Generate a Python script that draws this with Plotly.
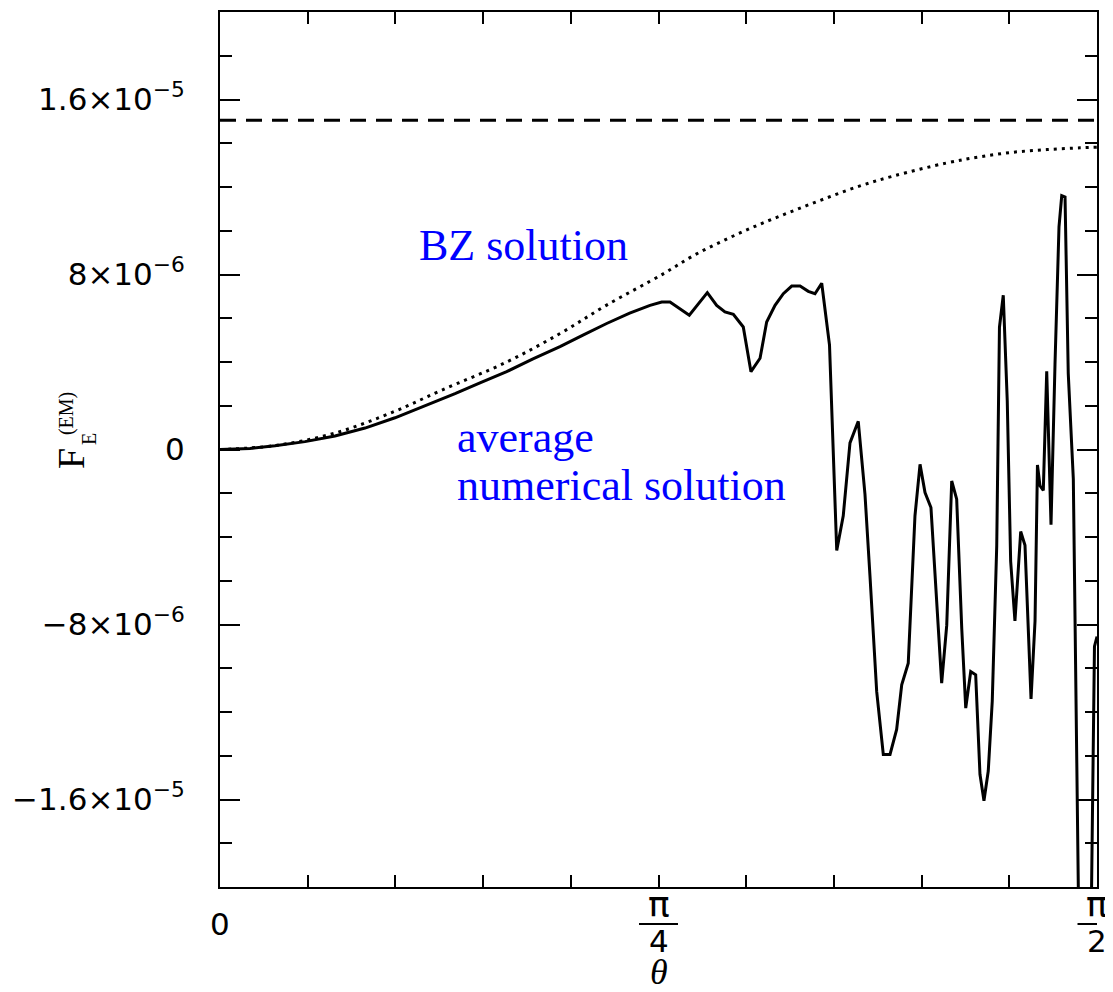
import plotly.graph_objects as go

# ---------------- data (theta in degrees, F in units of 1e-6) ----------------
theta_num = [0, 3.08, 5.64, 8.72, 11.80, 14.88, 17.96, 21.04, 24.12, 26.68, 29.42, 32.12,
             34.89, 37.25, 39.68, 42.04, 44.13, 45.33, 46.18, 48.16, 50.01, 50.97, 51.82,
             52.68, 53.70, 54.49, 55.42, 56.10, 56.96, 57.81, 58.67, 59.53, 60.37, 61.06,
             61.75, 62.55, 63.29, 63.96, 64.65, 65.50, 66.19, 66.70, 67.39, 68.07, 68.76,
             69.44, 69.96, 70.63, 71.32, 71.84, 72.35, 72.96, 73.55, 74.06, 74.58, 75.09,
             75.60, 76.12, 76.53, 77.04, 77.55, 77.99, 78.40, 78.84, 79.25, 79.71, 79.99,
             80.38, 80.79, 81.14, 81.58, 82.17, 82.61, 83.23, 83.64, 83.89, 84.15, 84.49,
             84.84, 85.28, 85.69, 86.10, 86.38, 86.72, 87.05, 87.57, 88.77, 89.74, 90.0]
F_num = [0, 0.05, 0.17, 0.36, 0.62, 0.98, 1.45, 2.00, 2.55, 3.05, 3.56, 4.14,
         4.70, 5.23, 5.76, 6.23, 6.59, 6.74, 6.74, 6.14, 7.17, 6.59, 6.29,
         6.18, 5.60, 3.56, 4.17, 5.83, 6.59, 7.12, 7.47, 7.47, 7.23, 7.12,
         7.60, 4.77, -4.62, -3.03, 0.30, 1.29, -2.05, -5.76, -11.06, -13.94, -13.94,
         -12.80, -10.76, -9.77, -3.03, -0.68, -1.97, -2.65, -6.82, -10.68, -8.03, -1.44,
         -2.27, -8.18, -11.82, -10.15, -10.30, -14.85, -16.06, -14.70, -11.51, -4.40, 5.59,
         7.05, 2.23, -5.11, -7.84, -3.75, -4.38, -11.40, -7.84, -0.71, -1.66, -1.87,
         3.58, -3.44, 3.90, 10.18, 11.60, 11.54, 3.48, -1.34, -45.0, -9.0, -8.55]

theta_bz = [0, 5.64, 11.80, 17.96, 22.58, 29.42, 34.89, 39.68, 45.49, 48.57, 52.00,
            55.42, 58.83, 62.26, 65.68, 69.10, 74.58, 77.99, 81.41, 84.84, 88.26, 90.0]
F_bz = [0, 0.18, 0.75, 1.75, 2.68, 4.0, 5.3, 6.6, 8.03, 8.86, 9.62,
        10.30, 10.91, 11.50, 12.05, 12.50, 13.10, 13.38, 13.59, 13.71, 13.79, 13.82]

theta_flat = [0, 90]
F_flat = [15.05, 15.05]

scale = 1e-6

y_tick_vals = [-16e-6, -8e-6, 0, 8e-6, 16e-6]
y_tick_text = ["\u22121.6\u00d710<sup>\u22125</sup>", "\u22128\u00d710<sup>\u22126</sup>", "0",
               "8\u00d710<sup>\u22126</sup>", "1.6\u00d710<sup>\u22125</sup>"]
x_tick_vals = [0, 45, 90]
x_tick_num = ["0", "\u03c0", "\u03c0"]
x_tick_den = ["", "4", "2"]

# ---------------- figure ----------------
fig = go.Figure()
fig.add_trace(go.Scatter(x=theta_flat, y=[v * scale for v in F_flat], mode="lines",
                         line=dict(color="black", width=3, dash="16px,10px"), showlegend=False))
fig.add_trace(go.Scatter(x=theta_bz, y=[v * scale for v in F_bz], mode="lines",
                         line=dict(color="black", width=3, dash="3px,5px", shape="spline"),
                         showlegend=False))
fig.add_trace(go.Scatter(x=theta_num, y=[v * scale for v in F_num], mode="lines",
                         line=dict(color="black", width=3), showlegend=False))

tick_font = dict(family="DejaVu Sans", size=31, color="black")
pi_font = dict(family="DejaVu Sans", size=36, color="black")
serif = "Liberation Serif"

annotations = []
shapes = []
for v, num, den in zip(x_tick_vals, x_tick_num, x_tick_den):
    if den:
        annotations.append(dict(x=v, y=-0.0205, xref="x", yref="paper", text=num, showarrow=False,
                                xanchor="center", yanchor="middle", font=pi_font))
        annotations.append(dict(x=v, y=-0.0620, xref="x", yref="paper", text=den, showarrow=False,
                                xanchor="center", yanchor="middle", font=tick_font))
        shapes.append(dict(type="line", xref="x", yref="paper", x0=v - 2.0, x1=v + 2.0,
                           y0=-0.0422, y1=-0.0422, line=dict(color="black", width=2)))
    else:
        annotations.append(dict(x=v, y=-0.0422, xref="x", yref="paper", text=num, showarrow=False,
                                xanchor="center", yanchor="middle", font=tick_font))

# x axis title
annotations.append(dict(x=45, y=-0.0969, xref="x", yref="paper", text="<i>\u03b8</i>", showarrow=False,
                        xanchor="center", yanchor="middle", font=dict(family=serif, size=36, color="black")))
# y axis title pieces
annotations.append(dict(x=-0.1699, y=0.4903, xref="paper", yref="paper", text="F", showarrow=False,
                        textangle=-90, xanchor="center", yanchor="middle",
                        font=dict(family=serif, size=38, color="black")))
annotations.append(dict(x=-0.1756, y=0.5416, xref="paper", yref="paper", text="(EM)", showarrow=False,
                        textangle=-90, xanchor="center", yanchor="middle",
                        font=dict(family=serif, size=20, color="black")))
annotations.append(dict(x=-0.1494, y=0.512, xref="paper", yref="paper", text="E", showarrow=False,
                        textangle=-90, xanchor="center", yanchor="middle",
                        font=dict(family=serif, size=20, color="black")))
# curve labels
blue_font = dict(family=serif, size=44, color="#0000ff")
annotations.append(dict(x=20.2, y=9.32e-6, xref="x", yref="y", text="BZ solution", showarrow=False,
                        xanchor="left", yanchor="middle", font=blue_font))
annotations.append(dict(x=24.1, y=0.55e-6, xref="x", yref="y", text="average", showarrow=False,
                        xanchor="left", yanchor="middle", font=blue_font))
annotations.append(dict(x=24.1, y=-1.65e-6, xref="x", yref="y", text="numerical solution", showarrow=False,
                        xanchor="left", yanchor="middle", font=blue_font))

# the page adds an 8px body margin, so the figure is sized/offset to land the plot area at 220..1097 x 10..887
fig.update_layout(
    width=1105, height=984,
    margin=dict(l=212, r=16, t=2, b=105),
    paper_bgcolor="white", plot_bgcolor="white",
    showlegend=False,
    annotations=annotations,
    shapes=shapes,
    xaxis=dict(range=[0, 90], tickmode="linear", tick0=0, dtick=9, ticks="inside", ticklen=12,
               tickwidth=1.5, tickcolor="black", showticklabels=False, showgrid=False, zeroline=False,
               showline=True, linecolor="black", linewidth=2, mirror="allticks"),
    yaxis=dict(range=[-20e-6, 20e-6], tickmode="array", tickvals=y_tick_vals, ticktext=y_tick_text,
               ticks="inside", ticklen=20, tickwidth=1.5, tickcolor="black", tickfont=tick_font,
               ticklabelstandoff=27, showgrid=False, zeroline=False,
               showline=True, linecolor="black", linewidth=2, mirror="allticks",
               minor=dict(tickmode="linear", tick0=0, dtick=2e-6, ticks="inside", ticklen=12,
                          tickwidth=1.5, tickcolor="black", showgrid=False)),
)

fig.write_html("out.html")
